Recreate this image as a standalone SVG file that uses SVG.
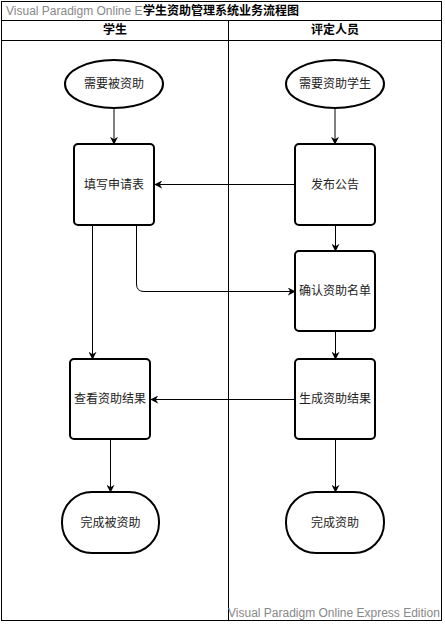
<svg xmlns="http://www.w3.org/2000/svg" width="445" height="624" viewBox="0 0 445 624">
<defs>
<style>
.frame{fill:none;stroke:#000;stroke-width:1}
.node{fill:#fff;stroke:#000;stroke-width:2}
.lbl{font-family:"Liberation Sans","Noto Sans CJK SC",sans-serif;font-size:12px;fill:#222;text-anchor:middle;dominant-baseline:central}
.hdr{font-family:"Liberation Sans","Noto Sans CJK SC",sans-serif;font-size:12px;font-weight:bold;fill:#000;text-anchor:middle;dominant-baseline:central}
.wm{font-family:"Liberation Sans","Noto Sans CJK SC",sans-serif;font-size:12px;fill:#888}
.edge{fill:none;stroke:#000;stroke-width:1}
</style>
<marker id="arr" viewBox="0 0 10 10" refX="9" refY="5" markerWidth="8" markerHeight="8" markerUnits="userSpaceOnUse" orient="auto">
<path d="M0,0 L10,5 L0,10 L3,5 Z" fill="#000"/>
</marker>
</defs>
<rect width="445" height="624" fill="#fff"/>
<g id="pool">
<rect class="frame" x="1.5" y="1.5" width="440" height="619"/>
<line class="frame" x1="1.5" y1="20.5" x2="441.5" y2="20.5"/>
<line class="frame" x1="1.5" y1="40.5" x2="441.5" y2="40.5"/>
<line class="frame" x1="228.5" y1="20.5" x2="228.5" y2="620.5"/>
<text class="wm" x="6" y="15">Visual Paradigm Online E</text>
<text x="143" y="15" style="font-family:'Liberation Sans','Noto Sans CJK SC',sans-serif;font-size:12px;font-weight:bold;fill:#000">学生资助管理系统业务流程图</text>
<text class="hdr" x="115" y="30">学生</text>
<text class="hdr" x="335" y="30">评定人员</text>
<text class="wm" x="228" y="617">Visual Paradigm Online Express Edition</text>
</g>
<g id="connectors">
<line class="edge" x1="114" y1="109" x2="114" y2="144" marker-end="url(#arr)"/>
<line class="edge" x1="335" y1="109" x2="335" y2="144" marker-end="url(#arr)"/>
<line class="edge" x1="295" y1="184.5" x2="155" y2="184.5" marker-end="url(#arr)"/>
<line class="edge" x1="92.5" y1="225" x2="92.5" y2="359" marker-end="url(#arr)"/>
<path class="edge" d="M136.5,225 L136.5,284 Q136.5,291.5 144,291.5 L295,291.5" marker-end="url(#arr)"/>
<line class="edge" x1="335.5" y1="225" x2="335.5" y2="251" marker-end="url(#arr)"/>
<line class="edge" x1="335.5" y1="331" x2="335.5" y2="359" marker-end="url(#arr)"/>
<line class="edge" x1="295" y1="399.5" x2="151" y2="399.5" marker-end="url(#arr)"/>
<line class="edge" x1="110.5" y1="439" x2="110.5" y2="492" marker-end="url(#arr)"/>
<line class="edge" x1="335.5" y1="439" x2="335.5" y2="492" marker-end="url(#arr)"/>
</g>
<g id="n1"><ellipse class="node" cx="114" cy="84" rx="49" ry="24"/><text class="lbl" x="114" y="84">需要被资助</text></g>
<g id="n2"><ellipse class="node" cx="335" cy="84" rx="49" ry="24"/><text class="lbl" x="335" y="84">需要资助学生</text></g>
<g id="n3"><rect class="node" x="74" y="144" width="80" height="81" rx="4"/><text class="lbl" x="114" y="184.5">填写申请表</text></g>
<g id="n4"><rect class="node" x="295" y="144" width="80" height="81" rx="4"/><text class="lbl" x="335" y="184.5">发布公告</text></g>
<g id="n5"><rect class="node" x="295" y="251" width="80" height="80" rx="4"/><text class="lbl" x="335" y="291">确认资助名单</text></g>
<g id="n6"><rect class="node" x="70" y="359" width="80" height="80" rx="4"/><text class="lbl" x="110" y="399">查看资助结果</text></g>
<g id="n7"><rect class="node" x="295" y="359" width="80" height="80" rx="4"/><text class="lbl" x="335" y="399">生成资助结果</text></g>
<g id="n8"><rect class="node" x="62" y="492" width="97" height="61" rx="30" ry="30"/><text class="lbl" x="110.5" y="522.5">完成被资助</text></g>
<g id="n9"><rect class="node" x="286" y="492" width="98" height="61" rx="30" ry="30"/><text class="lbl" x="335" y="522.5">完成资助</text></g>
</svg>
